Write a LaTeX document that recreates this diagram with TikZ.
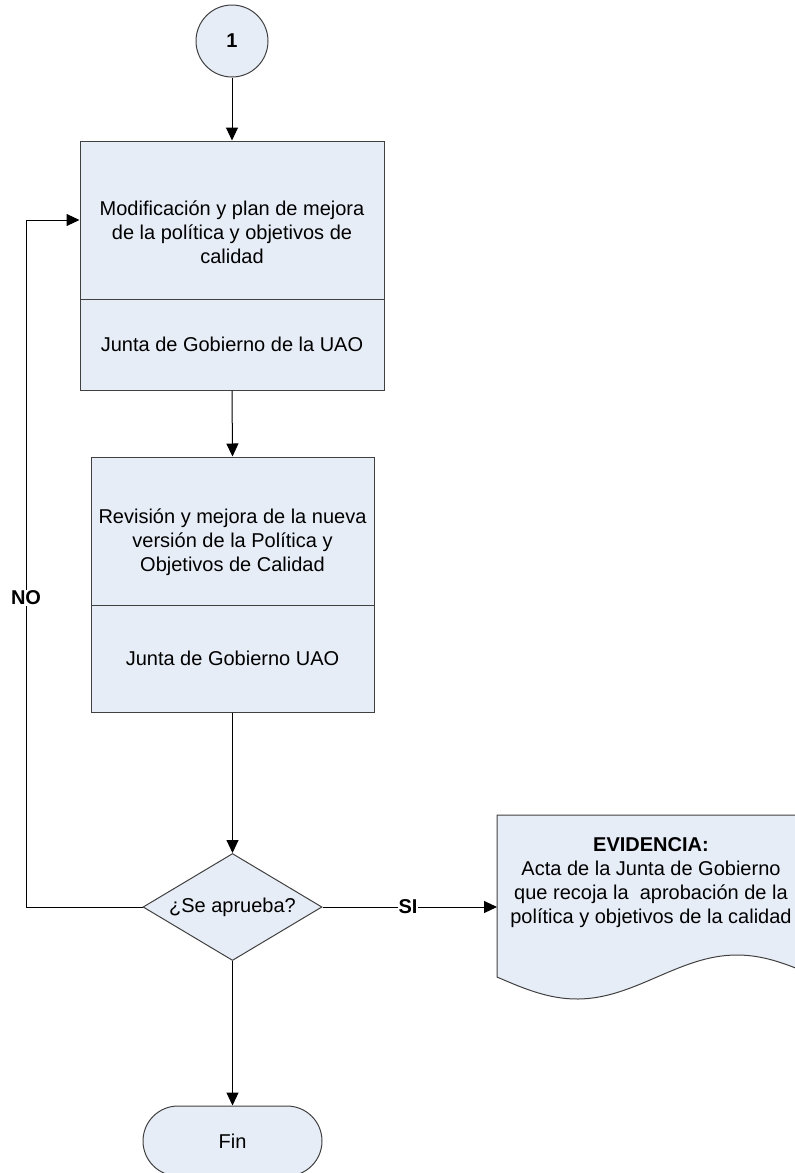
\documentclass[tikz,border=0pt]{standalone}
\usepackage{fontspec}
\setmainfont{Liberation Sans}
\usetikzlibrary{arrows.meta,shapes.geometric,shapes.misc}

\definecolor{boxfill}{RGB}{231,237,247}
\definecolor{boxline}{RGB}{64,64,64}

\tikzset{
  flowtext/.style={font=\fontsize{20pt}{24pt}\selectfont,align=center},
  partbox/.style={draw=boxline,fill=boxfill,line width=1pt,rectangle,inner sep=0pt},
  arrowline/.style={line width=1pt,-{Triangle[length=13pt,width=12pt]}},
  lbl/.style={font=\fontsize{20pt}{24pt}\selectfont\bfseries,fill=white,inner sep=1pt}
}

\begin{document}
\begin{tikzpicture}[x=1pt,y=-1pt]
\useasboundingbox (0,0) rectangle (795,1173);
\clip (0,0) rectangle (795,1173);

\node [circle,draw=boxline,fill=boxfill,line width=1pt,minimum size=72pt,inner sep=0pt,
  font=\fontsize{20pt}{24pt}\selectfont\bfseries] (start) at (232,41) {1};

\node [partbox,minimum width=304pt,minimum height=158pt] (mod) at (232,220) {};
\node [partbox,minimum width=304pt,minimum height=91pt] (modjunta) at (232,344.5) {};
\node [flowtext] (modtxt) at (232,232) {Modificación y plan de mejora\\de la política y objetivos de\\calidad};
\node [flowtext] (modjuntatxt) at (232,344.5) {Junta de Gobierno de la UAO};

\node [partbox,minimum width=283pt,minimum height=148pt] (rev) at (232.5,531) {};
\node [partbox,minimum width=283pt,minimum height=107pt] (revjunta) at (232.5,658.5) {};
\node [flowtext] (revtxt) at (232.5,542) {Revisión y mejora de la nueva\\versión de la Política y\\Objetivos de Calidad};
\node [flowtext] (revjuntatxt) at (232.5,658.5) {Junta de Gobierno UAO};

\node [diamond,draw=boxline,fill=boxfill,line width=1pt,minimum width=179pt,minimum height=107pt,
  inner sep=0pt,label={[flowtext]center:¿Se aprueba?}] (dec) at (232.5,907) {};

\node [rounded rectangle,draw=boxline,fill=boxfill,line width=1pt,minimum width=179pt,
  minimum height=70pt,inner sep=0pt,flowtext] (fin) at (232.5,1141) {Fin};

\filldraw [draw=boxline,fill=boxfill,line width=1pt] (497,815) -- (817,815) -- (817,977)
  -- plot [domain=320:0,samples=80] ({497+\x},{977+22*sin(\x*1.125)}) -- cycle;
\node [flowtext] (evid) at (651,883) {\textbf{EVIDENCIA:}\\Acta de la Junta de Gobierno\\que recoja la\ \ aprobación de la\\política y objetivos de la calidad};
\coordinate (docin) at (497,907);
\coordinate (nocorner) at (26,907);

\draw [arrowline] (start) -- (mod.north);
\draw [arrowline] (modjunta.south) -- (rev.north);
\draw [arrowline] (revjunta.south) -- (dec.north);
\draw [arrowline] (dec.south) -- (fin.north);
\draw [arrowline] (dec.east) -- node [lbl,pos=0.49] {SI} (docin);
\draw [arrowline] (dec.west) -- (nocorner) -- node [lbl,pos=0.45] {NO} (nocorner |- mod.west) -- (mod.west);
\end{tikzpicture}
\end{document}
